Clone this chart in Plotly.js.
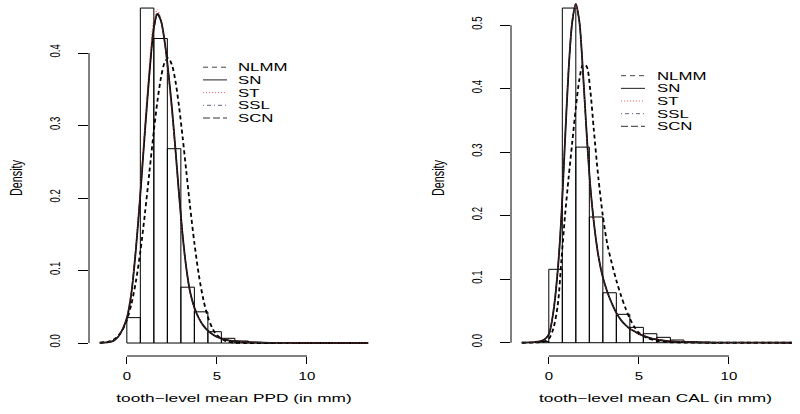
<!DOCTYPE html>
<html><head><meta charset="utf-8">
<script src="https://cdn.plot.ly/plotly-3.0.1.min.js"></script>
<style>html,body{margin:0;padding:0;background:#fff}#chart{width:800px;height:414px}</style>
</head><body><div id="chart"></div>
<script>
// ---------------- data ----------------
const seriesNames = ['NLMM', 'SN', 'ST', 'SSL', 'SCN'];
const xTitles = ['tooth\u2212level mean PPD (in mm)', 'tooth\u2212level mean CAL (in mm)'];
const yTitle = 'Density';
const xTickVals = [0, 5, 10];
const xTickText = ['0', '5', '10'];
const ppdYTickVals = [0, 0.1, 0.2, 0.3, 0.4];
const ppdYTickText = ['0.0', '0.1', '0.2', '0.3', '0.4'];
const calYTickVals = [0, 0.1, 0.2, 0.3, 0.4, 0.5];
const calYTickText = ['0.0', '0.1', '0.2', '0.3', '0.4', '0.5'];

const binWidth = 0.75;
const ppdBinLeft = [0, 0.75, 1.5, 2.25, 3.0, 3.75, 4.5, 5.25, 6.0, 6.75, 7.5];
const ppdDensity = [0.035, 0.462, 0.420, 0.268, 0.077, 0.043, 0.0156, 0.0065, 0.0028, 0.001, 0.0004];
const calBinLeft = [-0.75, 0, 0.75, 1.5, 2.25, 3.0, 3.75, 4.5, 5.25, 6.0, 6.75, 7.5, 8.25, 9.0];
const calDensity = [0.002, 0.1156, 0.527, 0.308, 0.198, 0.0787, 0.0447, 0.0242, 0.0142, 0.0085, 0.0043, 0.0016, 0.001, 0.0004];

const ppdX = [-1.5, -1.0, -0.75, -0.5, -0.25, 0, 0.25, 0.5, 0.75, 1.0, 1.25, 1.5, 1.7, 1.9, 2.1, 2.3, 2.5, 2.7, 2.9, 3.1, 3.3, 3.5, 3.75, 4.0, 4.25, 4.5, 4.75, 5.0, 5.5, 6.0, 6.5, 7.0, 8.0, 9.0, 10.0, 11.0, 12.0, 13.4];
const ppdNLMM = [0.0004, 0.0021, 0.0046, 0.0092, 0.0176, 0.0316, 0.0532, 0.0845, 0.126, 0.1775, 0.2348, 0.2925, 0.3338, 0.3666, 0.3869, 0.393, 0.384, 0.361, 0.326, 0.2835, 0.2372, 0.1907, 0.138, 0.0935, 0.0598, 0.0361, 0.0204, 0.0108, 0.0026, 0.0005, 0.0001, 0, 0, 0, 0, 0, 0, 0];
const ppdSN = [0.0002, 0.0012, 0.003, 0.008, 0.018, 0.034, 0.068, 0.128, 0.205, 0.29, 0.37, 0.435, 0.454, 0.444, 0.416, 0.375, 0.325, 0.267, 0.205, 0.148, 0.104, 0.072, 0.049, 0.034, 0.024, 0.017, 0.012, 0.0085, 0.0045, 0.0025, 0.0014, 0.0008, 0.0003, 0.0001, 0.00005, 0.00002, 0.00001, 0];
const ppdST = [0.0003, 0.0015, 0.0035, 0.009, 0.02, 0.037, 0.073, 0.135, 0.214, 0.302, 0.384, 0.447, 0.46, 0.445, 0.412, 0.368, 0.317, 0.259, 0.198, 0.143, 0.1, 0.07, 0.047, 0.033, 0.024, 0.017, 0.012, 0.009, 0.005, 0.003, 0.0018, 0.0011, 0.0005, 0.0002, 0.0001, 0.00005, 0.00002, 0.00001];
const ppdSSL = [0.0002, 0.0013, 0.0032, 0.0085, 0.019, 0.035, 0.069, 0.128, 0.204, 0.288, 0.367, 0.432, 0.452, 0.443, 0.416, 0.376, 0.327, 0.269, 0.207, 0.15, 0.105, 0.073, 0.05, 0.035, 0.025, 0.0175, 0.0125, 0.009, 0.005, 0.0028, 0.0016, 0.001, 0.0004, 0.00015, 0.00007, 0.00003, 0.00001, 0];
const ppdSCN = [0.0002, 0.0012, 0.003, 0.008, 0.018, 0.034, 0.069, 0.13, 0.208, 0.293, 0.373, 0.437, 0.456, 0.445, 0.416, 0.374, 0.323, 0.265, 0.203, 0.147, 0.103, 0.071, 0.048, 0.034, 0.024, 0.017, 0.012, 0.0087, 0.0047, 0.0026, 0.0015, 0.0009, 0.0003, 0.0001, 0.00005, 0.00002, 0.00001, 0];

const calX = [-1.5, -1.0, -0.75, -0.5, -0.25, 0, 0.25, 0.5, 0.7, 0.9, 1.1, 1.3, 1.5, 1.7, 1.9, 2.1, 2.3, 2.5, 2.75, 3.0, 3.25, 3.5, 3.75, 4.0, 4.25, 4.5, 4.75, 5.0, 5.5, 6.0, 6.5, 7.0, 8.0, 9.0, 10.0, 11.0, 12.0, 13.5];
const calNLMM = [0, 0.0002, 0.0005, 0.001, 0.002, 0.006, 0.022, 0.06, 0.13, 0.2, 0.26, 0.315, 0.37, 0.415, 0.438, 0.435, 0.398, 0.335, 0.26, 0.2, 0.155, 0.125, 0.098, 0.075, 0.055, 0.038, 0.025, 0.016, 0.007, 0.003, 0.0012, 0.0005, 0.0001, 0, 0, 0, 0, 0];
const calSN = [0.0001, 0.0005, 0.001, 0.002, 0.005, 0.013, 0.048, 0.115, 0.2, 0.318, 0.43, 0.505, 0.533, 0.505, 0.425, 0.33, 0.248, 0.19, 0.137, 0.103, 0.08, 0.062, 0.047, 0.036, 0.028, 0.022, 0.018, 0.014, 0.0085, 0.005, 0.003, 0.0018, 0.0007, 0.0003, 0.0001, 0.00005, 0.00002, 0];
const calST = [0.0002, 0.0007, 0.0013, 0.0025, 0.006, 0.015, 0.052, 0.12, 0.207, 0.326, 0.437, 0.51, 0.535, 0.503, 0.42, 0.325, 0.245, 0.188, 0.136, 0.102, 0.079, 0.061, 0.047, 0.036, 0.028, 0.022, 0.018, 0.014, 0.009, 0.0055, 0.0035, 0.0022, 0.001, 0.0004, 0.0002, 0.0001, 0.00005, 0.00002];
const calSSL = [0.0001, 0.0005, 0.001, 0.0022, 0.0055, 0.014, 0.049, 0.116, 0.201, 0.318, 0.428, 0.502, 0.531, 0.504, 0.425, 0.331, 0.25, 0.192, 0.139, 0.104, 0.081, 0.062, 0.047, 0.036, 0.028, 0.022, 0.018, 0.014, 0.0087, 0.0052, 0.0031, 0.0019, 0.0008, 0.0003, 0.0001, 0.00005, 0.00002, 0];
const calSCN = [0.0001, 0.0005, 0.001, 0.002, 0.005, 0.013, 0.048, 0.116, 0.202, 0.321, 0.432, 0.507, 0.534, 0.505, 0.424, 0.329, 0.247, 0.189, 0.137, 0.103, 0.08, 0.062, 0.047, 0.036, 0.028, 0.022, 0.018, 0.014, 0.0085, 0.005, 0.003, 0.0018, 0.0007, 0.0003, 0.0001, 0.00005, 0.00002, 0];

// ---------------- styles ----------------
const W = 800, H = 414;
const ML = 89, MB = 58;
const lineStyles = [
  {color: '#000000', width: 1.8, dash: '4px,3px'},   // NLMM
  {color: '#000000', width: 1.8, dash: 'solid'},     // SN
  {color: '#ff3030', width: 1.0, dash: '1px,2px'},   // ST
  {color: '#222222', width: 1.0, dash: '1px,3px,4px,3px'}, // SSL
  {color: '#222222', width: 1.0, dash: '7px,3px'}    // SCN
];
const legendStyles = [
  {color: '#444444', width: 1, dash: '5px,4px'},
  {color: '#222222', width: 1, dash: 'solid'},
  {color: '#ff6060', width: 1, dash: '1px,2px'},
  {color: '#666677', width: 1, dash: '1px,3px,4px,3px'},
  {color: '#333333', width: 1, dash: '7px,3px'}
];

const px2x = p => (p - ML) / (W - ML);
const py2y = p => (H - MB - p) / (H - MB);

const data = [];
function addPanel(binLeft, dens, xs, curves, xa, ya) {
  data.push({
    type: 'bar', x: binLeft, y: dens, width: binWidth, offset: 0,
    marker: {color: 'rgba(255,255,255,0)', line: {color: '#000', width: 1}},
    xaxis: xa, yaxis: ya, showlegend: false, hoverinfo: 'skip'
  });
  curves.forEach((c, i) => {
    data.push({
      type: 'scatter', mode: 'lines', x: xs, y: c, name: seriesNames[i],
      line: Object.assign({shape: 'spline', smoothing: 0.8}, lineStyles[i]),
      xaxis: xa, yaxis: ya, showlegend: false
    });
  });
}
addPanel(ppdBinLeft, ppdDensity, ppdX, [ppdNLMM, ppdSN, ppdST, ppdSSL, ppdSCN], 'x', 'y');
addPanel(calBinLeft, calDensity, calX, [calNLMM, calSN, calST, calSSL, calSCN], 'x2', 'y2');

const shapes = [];
const annotations = [];
// R-style axis lines spanning only the tick range
shapes.push({type: 'line', xref: 'x', yref: 'y domain', x0: 0, x1: 10, y0: 0, y1: 0, line: {color: '#000', width: 1}});
shapes.push({type: 'line', xref: 'x domain', yref: 'y', x0: 0, x1: 0, y0: 0, y1: 0.4, line: {color: '#000', width: 1}});
shapes.push({type: 'line', xref: 'x2', yref: 'y2 domain', x0: 0, x1: 10, y0: 0, y1: 0, line: {color: '#000', width: 1}});
shapes.push({type: 'line', xref: 'x2 domain', yref: 'y2', x0: 0, x1: 0, y0: 0, y1: 0.5, line: {color: '#000', width: 1}});

// legends (drawn like R's legend box without border)
function addLegend(lx0, lx1, tx, ty0, dy) {
  seriesNames.forEach((n, i) => {
    const py = ty0 + i * dy;
    shapes.push({type: 'line', xref: 'paper', yref: 'paper', x0: px2x(lx0), x1: px2x(lx1), y0: py2y(py), y1: py2y(py), line: legendStyles[i]});
    annotations.push({xref: 'paper', yref: 'paper', x: px2x(tx), y: py2y(py), xanchor: 'left', yanchor: 'middle', align: 'left',
      text: n, showarrow: false, borderpad: 0, borderwidth: 0,
      font: {family: 'Liberation Sans, Arial, sans-serif', size: 11.2, color: '#000'}});
  });
}
addLegend(203, 227, 238, 67.2, 12.7);
addLegend(621, 645, 657, 75.7, 12.65);

const hFont = {family: 'Liberation Sans, Arial, sans-serif', size: 10, color: '#000'};
const vFont = {family: 'Liberation Sans, Arial, sans-serif', size: 14.4, color: '#000'};
function xAxis(domain, title) {
  return {domain: domain, range: [-2.1, domain[1] === 1 ? 13.95 : 14.0], showgrid: false, zeroline: false, showline: false,
    ticks: 'outside', ticklen: 7, tickwidth: 1, tickcolor: '#000', tickvals: xTickVals, ticktext: xTickText,
    tickfont: hFont, ticklabelstandoff: 4,
    title: {text: title, font: {family: 'Liberation Sans, Arial, sans-serif', size: 11.5, color: '#000'}, standoff: 12}};
}
function yAxis(anchor, range, tv, tt) {
  return {anchor: anchor, domain: [0, 1], range: range, showgrid: false, zeroline: false, showline: false,
    ticks: 'outside', ticklen: 10, tickwidth: 1, tickcolor: '#000', tickvals: tv, ticktext: tt,
    tickangle: -90, tickfont: vFont, ticklabelstandoff: 12,
    title: {text: yTitle, font: {family: 'Liberation Sans, Arial, sans-serif', size: 16.2, color: '#000'}, standoff: 20}};
}
const leftDomain = [px2x(89), px2x(379)];
const rightDomain = [px2x(511), 1];

const layout = {
  width: W, height: H,
  margin: {l: ML, r: 0, t: 0, b: MB, pad: 0},
  paper_bgcolor: '#fff', plot_bgcolor: 'rgba(0,0,0,0)',
  showlegend: false,
  xaxis: Object.assign(xAxis(leftDomain, xTitles[0]), {anchor: 'y'}),
  yaxis: yAxis('x', [-0.0179, 0.4731], ppdYTickVals, ppdYTickText),
  xaxis2: Object.assign(xAxis(rightDomain, xTitles[1]), {anchor: 'y2'}),
  yaxis2: yAxis('x2', [-0.0209, 0.5397], calYTickVals, calYTickText),
  shapes: shapes,
  annotations: annotations,
  font: {family: 'Liberation Sans, Arial, sans-serif'}
};

const SX = 1.5;
function stretchText(el, factor) {
  const w = el.getComputedTextLength();
  if (!w) return;
  el.setAttribute('textLength', (w * factor).toFixed(2));
  el.setAttribute('lengthAdjust', 'spacingAndGlyphs');
}
Plotly.newPlot('chart', data, layout, {staticPlot: true, displayModeBar: false}).then(gd => {
  gd.querySelectorAll('.xtick text, .x2tick text, .g-xtitle text, .g-x2title text, .annotation-text').forEach(t => stretchText(t, SX));
  gd.querySelectorAll('.ytick text, .y2tick text, .g-ytitle text, .g-y2title text').forEach(t => stretchText(t, 1 / SX));
});
</script>
</body></html>
